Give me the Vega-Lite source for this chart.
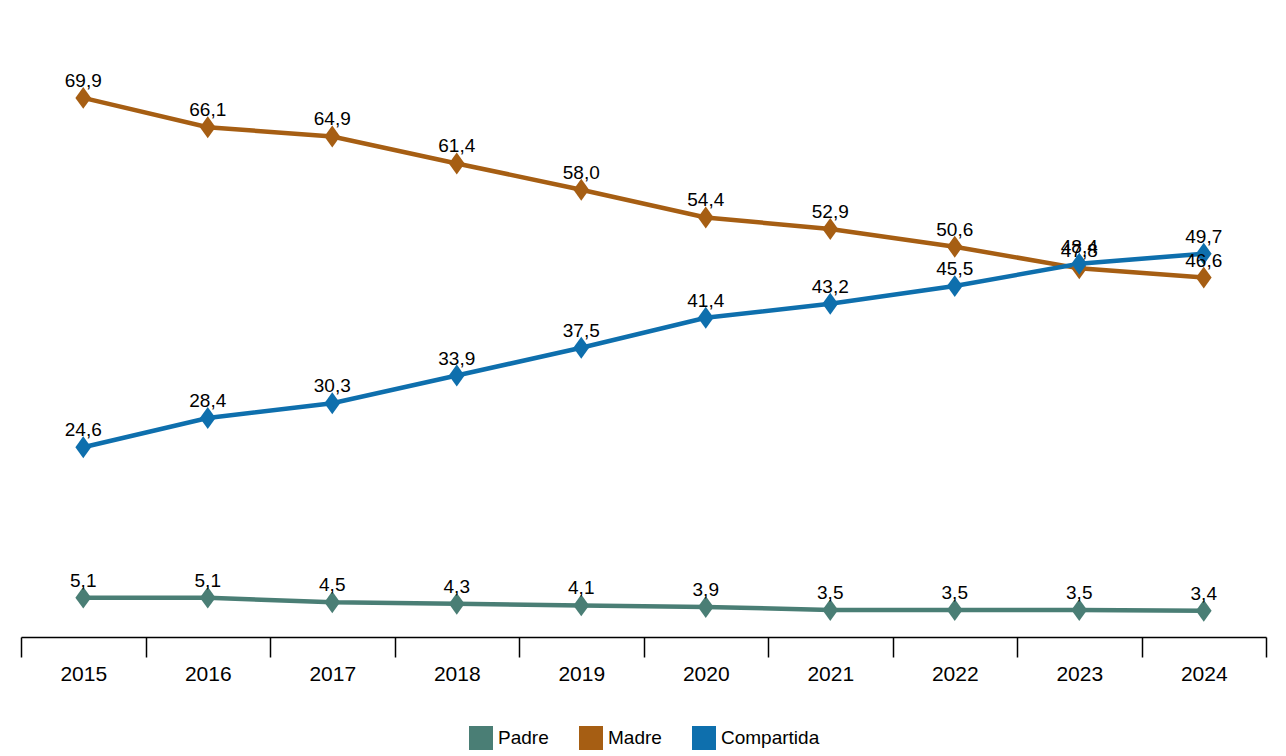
{
  "$schema": "https://vega.github.io/schema/vega-lite/v6.json",
  "autosize": "none",
  "width": 1245,
  "height": 617,
  "padding": {"left": 21, "top": 20, "right": 20, "bottom": 119},
  "background": "white",
  "config": {
    "locale": {"number": {"decimal": ",", "thousands": ".", "grouping": [3], "currency": ["", " €"]}},
    "view": {"stroke": null},
    "font": "Liberation Sans"
  },
  "data": {
    "values": [
      {"year": "2015", "serie": "Padre", "valor": 5.1},
      {"year": "2016", "serie": "Padre", "valor": 5.1},
      {"year": "2017", "serie": "Padre", "valor": 4.5},
      {"year": "2018", "serie": "Padre", "valor": 4.3},
      {"year": "2019", "serie": "Padre", "valor": 4.1},
      {"year": "2020", "serie": "Padre", "valor": 3.9},
      {"year": "2021", "serie": "Padre", "valor": 3.5},
      {"year": "2022", "serie": "Padre", "valor": 3.5},
      {"year": "2023", "serie": "Padre", "valor": 3.5},
      {"year": "2024", "serie": "Padre", "valor": 3.4},
      {"year": "2015", "serie": "Madre", "valor": 69.9},
      {"year": "2016", "serie": "Madre", "valor": 66.1},
      {"year": "2017", "serie": "Madre", "valor": 64.9},
      {"year": "2018", "serie": "Madre", "valor": 61.4},
      {"year": "2019", "serie": "Madre", "valor": 58.0},
      {"year": "2020", "serie": "Madre", "valor": 54.4},
      {"year": "2021", "serie": "Madre", "valor": 52.9},
      {"year": "2022", "serie": "Madre", "valor": 50.6},
      {"year": "2023", "serie": "Madre", "valor": 47.8},
      {"year": "2024", "serie": "Madre", "valor": 46.6},
      {"year": "2015", "serie": "Compartida", "valor": 24.6},
      {"year": "2016", "serie": "Compartida", "valor": 28.4},
      {"year": "2017", "serie": "Compartida", "valor": 30.3},
      {"year": "2018", "serie": "Compartida", "valor": 33.9},
      {"year": "2019", "serie": "Compartida", "valor": 37.5},
      {"year": "2020", "serie": "Compartida", "valor": 41.4},
      {"year": "2021", "serie": "Compartida", "valor": 43.2},
      {"year": "2022", "serie": "Compartida", "valor": 45.5},
      {"year": "2023", "serie": "Compartida", "valor": 48.4},
      {"year": "2024", "serie": "Compartida", "valor": 49.7}
    ]
  },
  "encoding": {
    "x": {
      "field": "year", "type": "ordinal", "title": null,
      "scale": {"type": "band", "paddingInner": 0, "paddingOuter": 0},
      "axis": {
        "tickBand": "extent", "labelAngle": 0, "labelFontSize": 21, "labelColor": "#000",
        "labelPadding": 6, "tickSize": 20, "tickColor": "#000", "tickWidth": 1.5,
        "domainColor": "#000", "domainWidth": 1.5, "grid": false
      }
    },
    "y": {
      "field": "valor", "type": "quantitative",
      "scale": {"domain": [0, 80]}, "axis": null
    },
    "color": {
      "field": "serie", "type": "nominal", "title": null,
      "scale": {"domain": ["Padre", "Madre", "Compartida"], "range": ["#4a7e75", "#a65e13", "#0e6fad"]},
      "legend": {
        "orient": "none", "legendX": 448, "legendY": 706, "direction": "horizontal", "symbolType": "square",
        "symbolSize": 576, "symbolStrokeWidth": 0, "symbolOpacity": 1, "labelOffset": 5,
        "labelFontSize": 19, "labelColor": "#000", "columnPadding": 30
      }
    }
  },
  "layer": [
    {"mark": {"type": "line", "strokeWidth": 4.5}},
    {"mark": {"type": "point", "filled": true, "opacity": 1, "shape": "M0,-1L0.72,0L0,1L-0.72,0Z", "size": 480}},
    {
      "mark": {"type": "text", "fontSize": 19, "color": "#000", "baseline": "alphabetic", "dy": -11},
      "encoding": {
        "text": {"field": "valor", "type": "quantitative", "format": ".1f"},
        "color": {"value": "#000"}
      }
    }
  ]
}
